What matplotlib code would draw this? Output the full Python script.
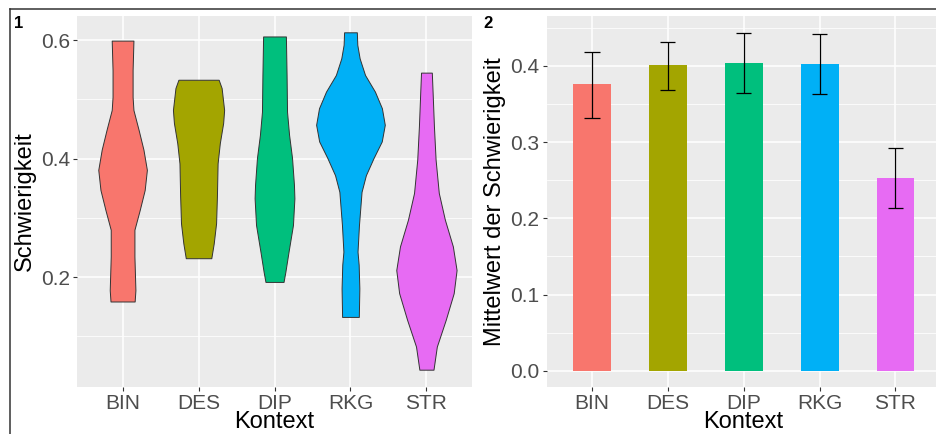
import matplotlib.pyplot as plt
from matplotlib.lines import Line2D
import numpy as np

plt.rcParams['font.family'] = ['Liberation Sans', 'DejaVu Sans']

kontext = ['BIN', 'DES', 'DIP', 'RKG', 'STR']
farben = ['#F8766D', '#A3A500', '#00BF7D', '#00B0F6', '#E76BF3']

bin_y = [0.599, 0.549, 0.504, 0.482, 0.448, 0.415, 0.381, 0.347, 0.313, 0.280, 0.235, 0.178, 0.159]
bin_w = [0.143, 0.132, 0.132, 0.143, 0.212, 0.275, 0.320, 0.291, 0.225, 0.156, 0.156, 0.169, 0.159]
des_y = [0.533, 0.519, 0.482, 0.460, 0.426, 0.392, 0.336, 0.291, 0.257, 0.232]
des_w = [0.265, 0.304, 0.337, 0.324, 0.280, 0.251, 0.242, 0.231, 0.200, 0.168]
dip_y = [0.606, 0.541, 0.479, 0.440, 0.401, 0.356, 0.333, 0.288, 0.243, 0.209, 0.192]
dip_w = [0.150, 0.159, 0.165, 0.192, 0.231, 0.256, 0.262, 0.243, 0.185, 0.143, 0.119]
rkg_y = [0.613, 0.592, 0.569, 0.541, 0.513, 0.485, 0.457, 0.429, 0.401, 0.372,
         0.344, 0.288, 0.243, 0.221, 0.181, 0.133]
rkg_w = [0.084, 0.090, 0.121, 0.192, 0.322, 0.414, 0.452, 0.412, 0.304, 0.203,
         0.146, 0.112, 0.093, 0.108, 0.117, 0.110]
str_y = [0.545, 0.510, 0.454, 0.398, 0.342, 0.297, 0.252, 0.212, 0.173, 0.128, 0.083, 0.044]
str_w = [0.071, 0.082, 0.099, 0.121, 0.163, 0.243, 0.348, 0.397, 0.359, 0.254, 0.137, 0.093]

# panel 2: mean difficulty with error bars
mittelwert = [0.376, 0.401, 0.404, 0.402, 0.253]
fehler_unten = [0.332, 0.369, 0.364, 0.363, 0.214]
fehler_oben = [0.418, 0.431, 0.443, 0.442, 0.292]

W, H = 936, 434
fig = plt.figure(figsize=(W / 100, H / 100), dpi=100)

ax1 = fig.add_axes([77 / W, 1 - 387 / H, 395 / W, 371 / H])
ax2 = fig.add_axes([546.5 / W, 1 - 387 / H, 394.5 / W, 371 / H])


def gg_axes(ax, ylim, major, minor):
    ax.set_facecolor('#EBEBEB')
    for s in ax.spines.values():
        s.set_visible(False)
    ax.set_xlim(0.4, 5.6)
    ax.set_ylim(*ylim)
    ax.set_xticks(range(1, 6))
    ax.set_xticklabels(kontext)
    ax.set_yticks(major)
    ax.set_yticklabels([f'{v:.1f}' for v in major])
    ax.set_yticks(minor, minor=True)
    ax.grid(True, which='major', color='white', lw=1.1)
    ax.grid(True, which='minor', axis='y', color='white', lw=0.55)
    ax.set_axisbelow(True)
    ax.tick_params(which='major', length=3, width=0.8, color='#333333',
                   labelsize=15, labelcolor='#4D4D4D', pad=2)
    ax.tick_params(which='minor', length=0)


gg_axes(ax1, (0.0148, 0.6405), [0.2, 0.4, 0.6], [0.1, 0.3, 0.5])
gg_axes(ax2, (-0.0213, 0.4656), [0.0, 0.1, 0.2, 0.3, 0.4], [0.05, 0.15, 0.25, 0.35, 0.45])

profile = [(bin_y, bin_w), (des_y, des_w), (dip_y, dip_w), (rkg_y, rkg_w), (str_y, str_w)]
for i, ((ys, ws), c) in enumerate(zip(profile, farben)):
    ys = np.array(ys)
    ws = np.array(ws)
    ax1.fill_betweenx(ys, i + 1 - ws, i + 1 + ws, facecolor=c,
                      edgecolor='#333333', lw=0.7, zorder=2)

x = np.arange(1, 6)
ax2.bar(x, mittelwert, width=0.5, color=farben, zorder=2)
ax2.vlines(x, fehler_unten, fehler_oben, color='black', lw=0.9, zorder=3)
ax2.hlines(fehler_unten, x - 0.1, x + 0.1, color='black', lw=0.9, zorder=3)
ax2.hlines(fehler_oben, x - 0.1, x + 0.1, color='black', lw=0.9, zorder=3)

# axis titles
yc = 1 - 201.5 / H
fig.text(25 / W, yc, 'Schwierigkeit', rotation=90, ha='center', va='center', fontsize=17)
fig.text(494.5 / W, yc, 'Mittelwert der Schwierigkeit', rotation=90, ha='center', va='center', fontsize=17)
fig.text((77 + 197.5) / W, 1 / H, 'Kontext', ha='center', va='bottom', fontsize=17)
fig.text((546.5 + 197) / W, 1 / H, 'Kontext', ha='center', va='bottom', fontsize=17)

# panel tags
fig.text(18.5 / W, 1 - 24 / H, '1', ha='center', va='center', fontsize=12, fontweight='bold')
fig.text(488 / W, 1 - 24 / H, '2', ha='center', va='center', fontsize=12, fontweight='bold')

# frame around the combined figure
fig.add_artist(Line2D([9.5 / W, 1.0], [1 - 8.5 / H, 1 - 8.5 / H], color='#333333', lw=1.1))
fig.add_artist(Line2D([9.5 / W, 9.5 / W], [0.0, 1 - 8.5 / H], color='#333333', lw=1.1))

fig.savefig('out.png', dpi=100)
